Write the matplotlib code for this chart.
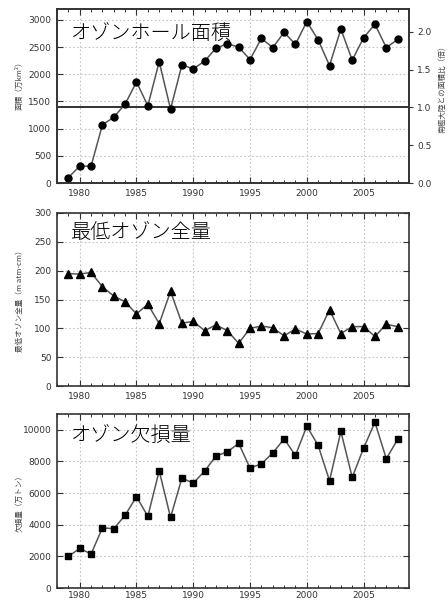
import numpy as np
import matplotlib
matplotlib.use("Agg")
import matplotlib.pyplot as plt
from matplotlib.ticker import MultipleLocator

plt.rcParams['font.family'] = ['DejaVu Sans', 'Noto Sans CJK JP']

# --- data ---
years = list(range(1979, 2009))

# ozone hole area (万km2)
area = [100, 310, 310, 1070, 1210, 1450, 1860, 1420, 2230, 1360,
        2170, 2100, 2240, 2480, 2560, 2500, 2270, 2660, 2490, 2770,
        2550, 2970, 2630, 2160, 2830, 2260, 2670, 2920, 2490, 2640]
antarctica_area = 1390

# minimum total ozone (m atm-cm)
min_ozone = [195, 194, 197, 172, 156, 146, 125, 142, 108, 164,
             109, 112, 96, 106, 96, 74, 100, 104, 101, 87,
             99, 90, 91, 132, 91, 103, 103, 86, 107, 103]

# ozone mass deficit (万トン)
deficit = [2000, 2500, 2150, 3800, 3750, 4600, 5770, 4530, 7410, 4460,
           6950, 6630, 7390, 8340, 8610, 9140, 7580, 7850, 8530, 9430,
           8380, 10230, 9010, 6780, 9900, 6990, 8840, 10480, 8170, 9390]

titles = ["オゾンホール面積", "最低オゾン全量", "オゾン欠損量"]
ylabels = ["面積（万km²）", "最低オゾン全量（m atm-cm）", "欠損量（万トン）"]
right_label = "南極大陸との面積比（倍）"

spine_col = '#333333'
line_col = '#555555'
tick_col = '#333333'

fig = plt.figure(figsize=(4.48, 6.02), dpi=100)
L, W = 57 / 448, 352 / 448
ax1 = fig.add_axes([L, (602 - 183) / 602, W, 174 / 602])
ax2 = fig.add_axes([L, (602 - 386) / 602, W, 173 / 602])
ax3 = fig.add_axes([L, (602 - 588) / 602, W, 174 / 602])


def style(ax, right=True, xpad=4):
    ax.set_xlim(1978, 2009)
    ax.xaxis.set_major_locator(MultipleLocator(5))
    ax.xaxis.set_minor_locator(MultipleLocator(1))
    ax.tick_params(which='both', direction='in', top=True, right=right,
                   color=spine_col, labelcolor=tick_col, labelsize=6.5)
    ax.tick_params(which='major', length=4, width=0.8)
    ax.tick_params(which='minor', length=2.5, width=0.7)
    ax.tick_params(axis='x', pad=xpad)
    ax.tick_params(axis='y', pad=4)
    ax.grid(True, which='major', linestyle=(0, (1.5, 2)), color='#c4c4c4', linewidth=0.8)
    ax.set_axisbelow(True)
    for s in ax.spines.values():
        s.set_color(spine_col)
        s.set_linewidth(1.2)


# panel 1: area
style(ax1, right=False)
ax1.set_ylim(0, 3200)
ax1.yaxis.set_major_locator(MultipleLocator(500))
ax1.axhline(antarctica_area, color='#222222', linewidth=1.3, zorder=2)
ax1.plot(years, area, color=line_col, linewidth=1.1, marker='o',
         markersize=5, markerfacecolor='black', markeredgecolor='black', zorder=3)
ax1r = ax1.twinx()
ax1r.set_ylim(0, 3200 / antarctica_area)
ax1r.yaxis.set_major_locator(MultipleLocator(0.5))
ax1r.yaxis.set_major_formatter(lambda v, p: f"{v:.1f}")
ax1r.tick_params(direction='out', length=3, color=spine_col,
                 labelcolor=tick_col, labelsize=6.5, pad=3)
for s in ax1r.spines.values():
    s.set_color(spine_col)
    s.set_linewidth(1.2)
ax1r.set_ylabel(right_label, fontsize=5.5, color='#444444',
                family=['Noto Sans CJK JP', 'DejaVu Sans'], labelpad=1)
ax1r.yaxis.set_label_coords(1.085, 0.55)

# panel 2: minimum ozone
style(ax2)
ax2.set_ylim(0, 300)
ax2.yaxis.set_major_locator(MultipleLocator(50))
ax2.plot(years, min_ozone, color=line_col, linewidth=1.1, marker='^',
         markersize=5.5, markerfacecolor='black', markeredgecolor='black')

# panel 3: deficit
style(ax3, xpad=2)
ax3.set_ylim(0, 11000)
ax3.yaxis.set_major_locator(MultipleLocator(2000))
ax3.plot(years, deficit, color=line_col, linewidth=1.1, marker='s',
         markersize=5, markerfacecolor='black', markeredgecolor='black')

title_y = [0.862, 0.89, 0.874]
label_y = [0.57, 0.5, 0.5]
for ax, t, lab, ty, ly in zip([ax1, ax2, ax3], titles, ylabels, title_y, label_y):
    ax.text(0.04, ty, t, transform=ax.transAxes, fontsize=14.5, ha='left', va='center',
            family=['Noto Sans CJK JP', 'DejaVu Sans'], fontweight='light',
            color='black', zorder=5)
    ax.set_ylabel(lab, fontsize=5.5, color='#444444',
                  family=['Noto Sans CJK JP', 'DejaVu Sans'])
    ax.yaxis.set_label_coords(-0.095, ly)

fig.savefig("out.png", dpi=100)
